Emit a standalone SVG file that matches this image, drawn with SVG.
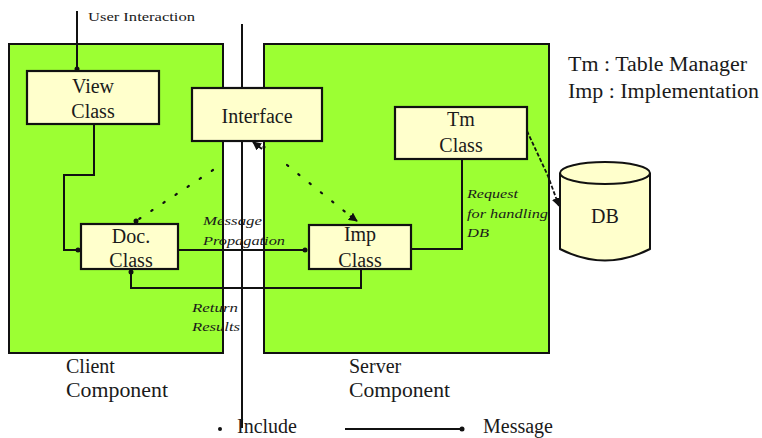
<svg xmlns="http://www.w3.org/2000/svg" width="762" height="438" viewBox="0 0 762 438">
  <style>
    .comp { fill: #9cff33; stroke: #111; stroke-width: 2; }
    .box { fill: #ffffcc; stroke: #111; stroke-width: 2.2; }
    .lbl { font-family: "Liberation Serif", Tinos, "DejaVu Serif", "Noto Serif", serif; font-size: 20px; fill: #1a1a1a; }
    .note { font-family: "Liberation Serif", Tinos, "DejaVu Serif", "Noto Serif", serif; font-size: 12px; font-style: italic; fill: #1a1a1a; }
    .small { font-family: "Liberation Serif", Tinos, "DejaVu Serif", "Noto Serif", serif; font-size: 12px; fill: #1a1a1a; }
    .msg { fill: none; stroke: #111; stroke-width: 2; }
    .inc { fill: none; stroke: #111; stroke-width: 2.2; stroke-dasharray: 1.5 13; stroke-linecap: round; }
    .db { fill: none; stroke: #111; stroke-width: 1.8; stroke-dasharray: 4 2; }
  </style>
  <defs>
    <marker id="dot" viewBox="0 0 6 6" refX="3" refY="3" markerWidth="6" markerHeight="6" markerUnits="userSpaceOnUse">
      <circle cx="3" cy="3" r="2.5" fill="#111"/>
    </marker>
    <marker id="tri" viewBox="0 0 10 10" refX="9" refY="5" markerWidth="9" markerHeight="9" markerUnits="userSpaceOnUse" orient="auto">
      <path d="M0,0 L10,5 L0,10 Z" fill="#111"/>
    </marker>
  </defs>

  <rect width="762" height="438" fill="#fff"/>

  <!-- component areas -->
  <g id="client-component">
    <rect class="comp" x="9" y="44" width="214" height="309"/>
    <text class="lbl" x="66" y="373">Client</text>
    <text class="lbl" x="66" y="397" textLength="102" lengthAdjust="spacingAndGlyphs">Component</text>
  </g>
  <g id="server-component">
    <rect class="comp" x="264" y="44" width="285" height="309"/>
    <text class="lbl" x="349" y="373">Server</text>
    <text class="lbl" x="349" y="397" textLength="101" lengthAdjust="spacingAndGlyphs">Component</text>
  </g>

  <!-- connectors -->
  <g id="connectors">
    <!-- client/server divider -->
    <line x1="242" y1="24" x2="242" y2="428" stroke="#111" stroke-width="2"/>
    <!-- user interaction into View -->
    <path class="msg" d="M77,11 V69" marker-end="url(#dot)"/>
    <!-- View to Doc -->
    <path class="msg" d="M94,124 V175 H64 V250 H78" marker-end="url(#dot)"/>
    <!-- Doc to Imp -->
    <path class="msg" d="M178,250 H305" marker-end="url(#dot)"/>
    <!-- Imp back to Doc -->
    <path class="msg" d="M361,269 V288 H131 V272" marker-end="url(#dot)"/>
    <!-- Imp to Tm -->
    <path class="msg" d="M411,249 H462 V159"/>
    <!-- Tm to DB -->
    <path class="db" d="M527,131 L548,176 L559,206" marker-end="url(#tri)"/>
    <!-- include links via Interface -->
    <path class="inc" d="M213,170 L136,221" marker-end="url(#dot)"/>
    <path class="inc" d="M287,165 L349,215"/>
    <path d="M350,216 L357,221" stroke="#111" stroke-width="2" marker-end="url(#tri)"/>
    <path d="M262,149 L253,142" stroke="#111" stroke-width="2" marker-end="url(#tri)"/>
    <circle cx="264" cy="147" r="1.6" fill="#111"/>

    <text class="note" x="203" y="225" textLength="59" lengthAdjust="spacingAndGlyphs">Message</text>
    <text class="note" x="203" y="245" textLength="82" lengthAdjust="spacingAndGlyphs">Propagation</text>
    <text class="note" x="192" y="312" textLength="46" lengthAdjust="spacingAndGlyphs">Return</text>
    <text class="note" x="192" y="331" textLength="48" lengthAdjust="spacingAndGlyphs">Results</text>
    <text class="note" x="467" y="198" textLength="51" lengthAdjust="spacingAndGlyphs">Request</text>
    <text class="note" x="467" y="218" textLength="81" lengthAdjust="spacingAndGlyphs">for handling</text>
    <text class="note" x="467" y="237" textLength="22" lengthAdjust="spacingAndGlyphs">DB</text>
  </g>

  <g id="user-interaction">
    <text class="small" x="88" y="21" textLength="107" lengthAdjust="spacingAndGlyphs">User Interaction</text>
  </g>

  <!-- class nodes -->
  <g id="view-class">
    <rect class="box" x="27" y="71" width="132" height="53"/>
    <text class="lbl" x="93" y="93" text-anchor="middle">View</text>
    <text class="lbl" x="93" y="118" text-anchor="middle">Class</text>
  </g>
  <g id="interface">
    <rect class="box" x="192" y="88" width="130" height="53"/>
    <text class="lbl" x="257" y="123" text-anchor="middle">Interface</text>
  </g>
  <g id="tm-class">
    <rect class="box" x="395" y="107" width="132" height="52"/>
    <text class="lbl" x="461" y="126" text-anchor="middle">Tm</text>
    <text class="lbl" x="461" y="152" text-anchor="middle">Class</text>
  </g>
  <g id="doc-class">
    <rect class="box" x="81" y="224" width="97" height="45"/>
    <text class="lbl" x="131" y="243" text-anchor="middle">Doc.</text>
    <text class="lbl" x="131" y="267" text-anchor="middle">Class</text>
  </g>
  <g id="imp-class">
    <rect class="box" x="309" y="225" width="102" height="44"/>
    <text class="lbl" x="360" y="241" text-anchor="middle">Imp</text>
    <text class="lbl" x="360" y="267" text-anchor="middle">Class</text>
  </g>
  <g id="db">
    <path d="M560,173 V249 Q605,272 650,249 V173" fill="#ffffcc" stroke="#111" stroke-width="2"/>
    <ellipse cx="605" cy="173" rx="45" ry="11" fill="#ffffcc" stroke="#111" stroke-width="2"/>
    <text class="lbl" x="605" y="223" text-anchor="middle">DB</text>
  </g>

  <!-- abbreviations -->
  <g id="abbrev">
    <text class="lbl" x="568" y="71" textLength="179" lengthAdjust="spacingAndGlyphs">Tm : Table Manager</text>
    <text class="lbl" x="568" y="98" textLength="191" lengthAdjust="spacingAndGlyphs">Imp : Implementation</text>
  </g>

  <!-- legend -->
  <g id="legend">
    <circle cx="220" cy="429" r="2" fill="#111"/>
    <text class="lbl" x="237" y="433">Include</text>
    <line x1="345" y1="429" x2="462" y2="429" stroke="#111" stroke-width="2" marker-end="url(#dot)"/>
    <text class="lbl" x="483" y="433">Message</text>
  </g>
</svg>
